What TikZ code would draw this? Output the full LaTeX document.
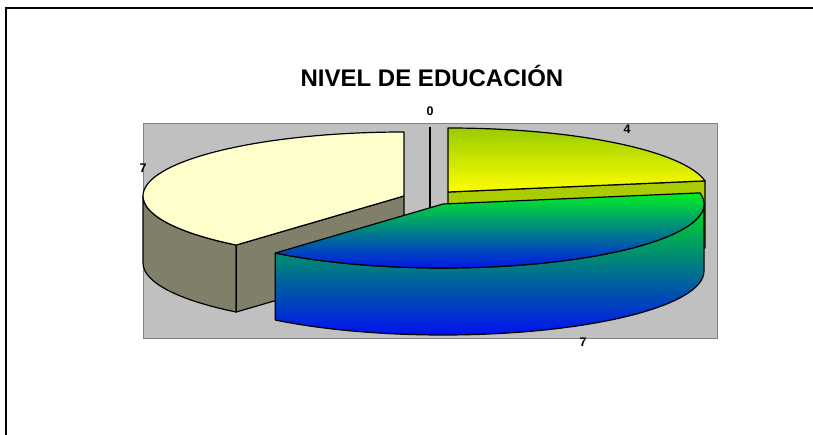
\documentclass[tikz,border=0pt]{standalone}
\usepackage{fontspec}
\setmainfont{Liberation Sans}
\usepackage{tikz}

\definecolor{plotgray}{HTML}{C0C0C0}
\definecolor{plotedge}{HTML}{808080}
\definecolor{paletop}{HTML}{FFFFCC}
\definecolor{paleside}{HTML}{80806A}
\definecolor{limetop}{HTML}{99CC00}
\definecolor{limeside}{HTML}{AACC00}
\definecolor{greentop}{HTML}{00EE22}
\definecolor{greenside}{HTML}{00DD22}
\definecolor{bluebot}{HTML}{0010F0}

\begin{document}
\begin{tikzpicture}[x=1pt, y=1pt,
    slice/.style={draw=black, line width=1.2pt, line join=round},
    lbl/.style={font=\bfseries\fontsize{12.5}{14}\selectfont}]
        \useasboundingbox (0,0) rectangle (813,434);
        \draw[black, line width=2pt] (814,426) -- (6,426) -- (6,-1);
        \filldraw[fill=plotgray, draw=plotedge, line width=1pt] (143,96) rectangle (717,310);
        % left slice
        \begin{scope}[shift={(404,238)}]
            \filldraw[slice, fill=paleside] (180:261 and 64) arc[start angle=180, end angle=230, x radius=261, y radius=64] -- ++(0,-67) arc[start angle=230, end angle=180, x radius=261, y radius=64] -- cycle;
            \filldraw[slice, fill=paleside] (0,0) -- (230:261 and 64) -- ++(0,-67) -- (0,-67) -- cycle;
            \filldraw[slice, fill=paletop] (0,0) -- (90:261 and 64) arc[start angle=90, end angle=230, x radius=261, y radius=64] -- cycle;
        \end{scope}
        \draw[black, line width=1.2pt] (430,307) -- (430,220);
        % right back slice
        \begin{scope}[shift={(448,242)}]
            \filldraw[slice, fill=limeside] (0,0) -- (10:261 and 64) -- ++(0,-67) -- (0,-67) -- cycle;
            \shadedraw[slice, top color=limetop, bottom color=yellow] (0,0) -- (10:261 and 64) arc[start angle=10, end angle=90, x radius=261, y radius=64] -- cycle;
        \end{scope}
        % front slice
        \begin{scope}[shift={(443,230)}]
            \shadedraw[slice, top color=greenside, bottom color=bluebot] (230:261 and 64) arc[start angle=230, end angle=360, x radius=261, y radius=64] -- ++(0,-67) arc[start angle=360, end angle=230, x radius=261, y radius=64] -- cycle;
            \shadedraw[slice, top color=greentop, bottom color=bluebot] (0,0) -- (10:261 and 64) arc[start angle=10, end angle=-130, x radius=261, y radius=64] -- cycle;
        \end{scope}
        \node[font=\bfseries\fontsize{24}{28}\selectfont] (title) at (432,358) {NIVEL DE EDUCACIÓN};
        \node[lbl] (vleft) at (143,266) {7};
        \node[lbl] (vzero) at (430,323) {0};
        \node[lbl] (vfour) at (627,305) {4};
        \node[lbl] (vfront) at (583,92) {7};
    \end{tikzpicture}
\end{document}
